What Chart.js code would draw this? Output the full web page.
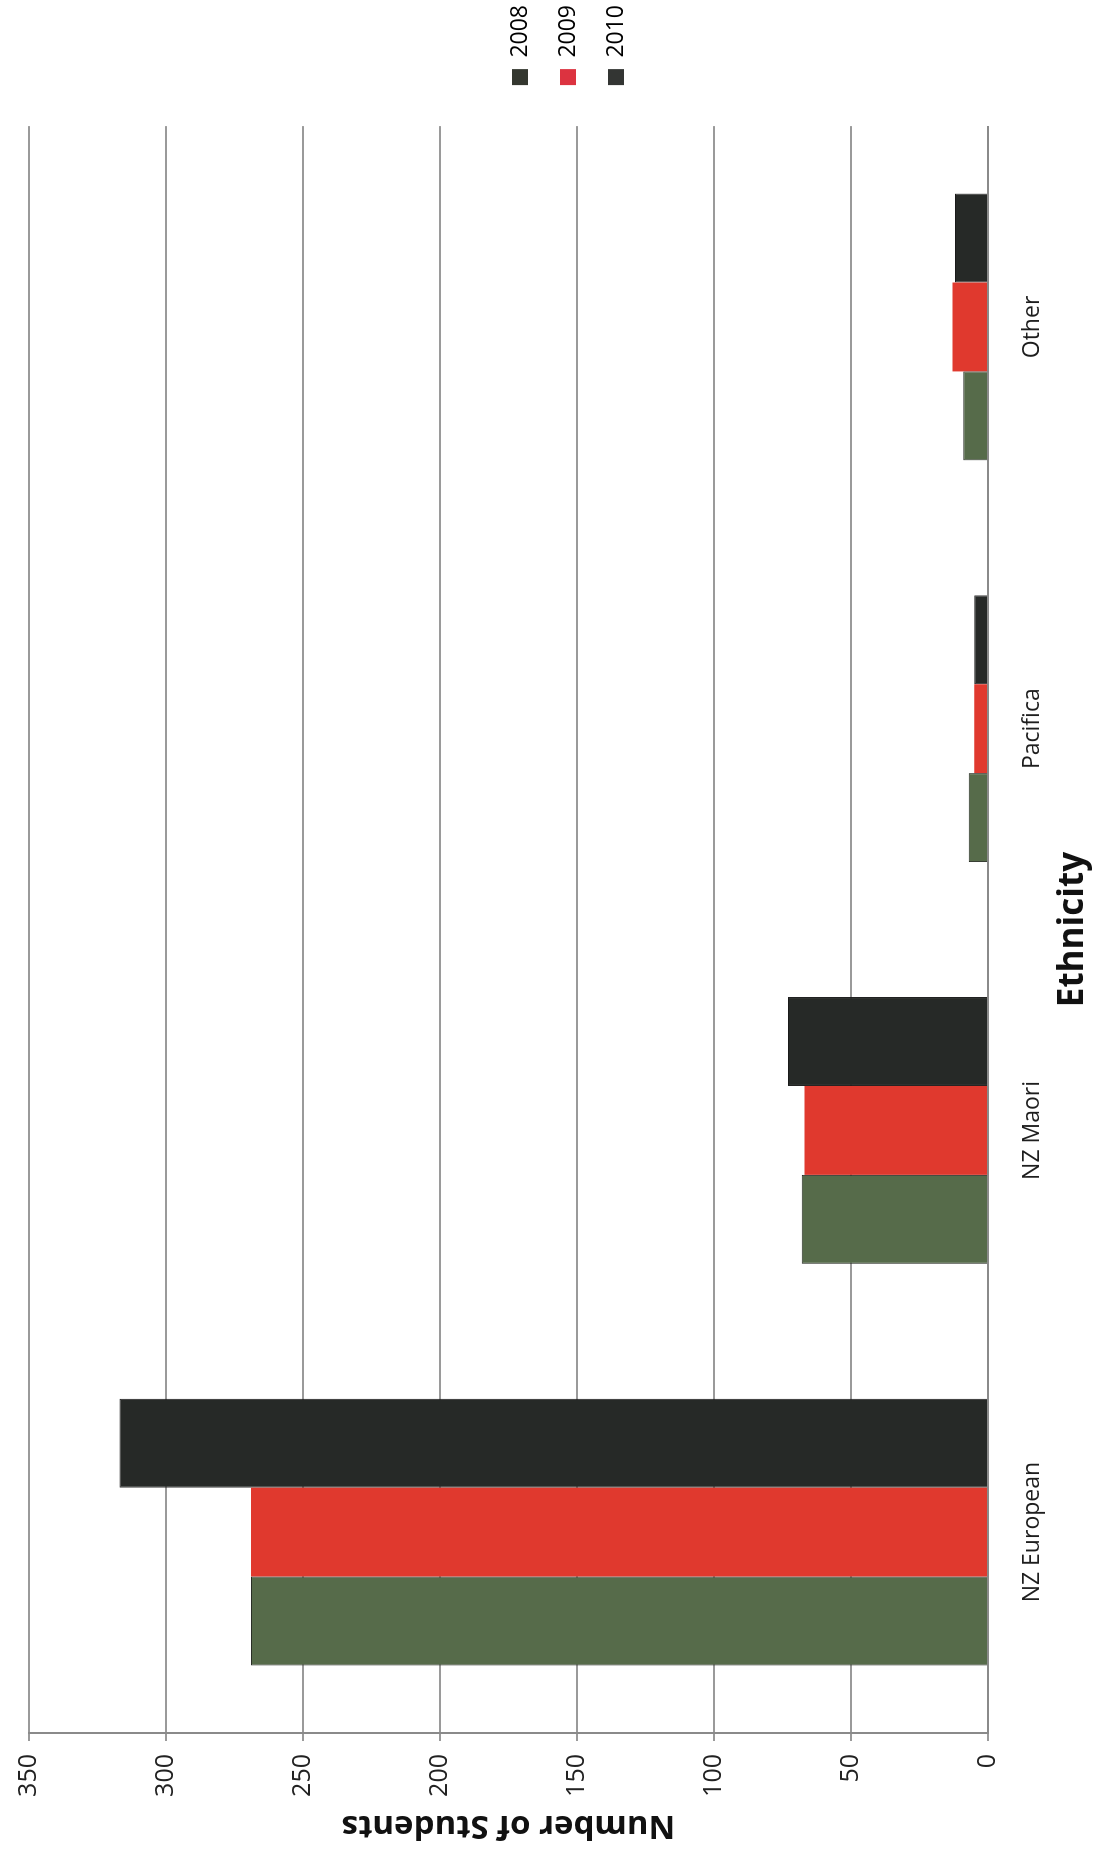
<!DOCTYPE html>
<html>
<head>
<meta charset="utf-8">
<script src="https://cdn.jsdelivr.net/npm/chart.js@4.4.0/dist/chart.umd.min.js"></script>
<style>
  html, body { margin: 0; padding: 0; background: #fff; overflow: hidden; width: 1107px; height: 1858px; }
  #wrap {
    position: absolute; left: 0; top: 0;
    width: 1858px; height: 1107px;
    transform-origin: 0 0;
    transform: translateY(1858px) rotate(-90deg);
    background: #fff;
  }
</style>
</head>
<body>
<div id="wrap"><canvas id="c" width="1858" height="1107"></canvas></div>
<script>
const categories = ['NZ European', 'NZ Maori', 'Pacifica', 'Other'];
const seriesNames = ['2008', '2009', '2010'];
const values2008 = [269, 68, 7, 9];
const values2009 = [269, 67, 5, 13];
const values2010 = [317, 73, 5, 12];
const valueTicks = [0, 50, 100, 150, 200, 250, 300, 350];

const barColors = ['#566b4a', '#e0392e', '#262927'];
const legendColors = ['#34372f', '#dc3340', '#333533'];
const FONT = "'Open Sans', 'Liberation Sans', sans-serif";

new Chart(document.getElementById('c'), {
  type: 'bar',
  data: {
    labels: categories,
    datasets: [
      { label: seriesNames[0], data: values2008, backgroundColor: barColors[0], borderColor: '#2a2f27', borderWidth: 1 },
      { label: seriesNames[1], data: values2009, backgroundColor: barColors[1], borderColor: '#b8302a', borderWidth: 0 },
      { label: seriesNames[2], data: values2010, backgroundColor: barColors[2], borderColor: '#1a1a1a', borderWidth: 1 }
    ]
  },
  options: {
    responsive: false,
    animation: false,
    devicePixelRatio: 1,
    datasets: { bar: { categoryPercentage: 0.664, barPercentage: 1.0 } },
    layout: { padding: { left: 10, right: -5, top: 29, bottom: 0 } },
    plugins: {
      tooltip: { enabled: false },
      legend: {
        position: 'right',
        align: 'center',
        labels: {
          boxWidth: 16,
          boxHeight: 16,
          padding: 25,
          color: '#222',
          font: { family: FONT, size: 23 },
          generateLabels(chart) {
            return chart.data.datasets.map((ds, i) => ({
              text: ds.label,
              fillStyle: legendColors[i],
              strokeStyle: legendColors[i],
              lineWidth: 0,
              hidden: false,
              datasetIndex: i
            }));
          }
        }
      }
    },
    scales: {
      x: {
        grid: { display: false },
        border: { display: true, color: '#8a8a8a', width: 2 },
        ticks: { color: '#1e1e1e', padding: 22.6, font: { family: FONT, size: 23 } },
        title: { display: true, text: 'Ethnicity', color: '#111', font: { family: FONT, size: 35, weight: 'bold' }, padding: { top: 0, bottom: 13 } },
        afterFit(s) { s.height = 119; }
      },
      y: {
        min: 0, max: 350,
        afterBuildTicks(s) { s.ticks = valueTicks.map(v => ({ value: v })); },
        grid: { color: '#9a9a9a', lineWidth: 2, tickLength: 8, drawTicks: true },
        border: { display: true, color: '#8a8a8a', width: 2 },
        ticks: { color: '#222', padding: 13, font: { family: FONT, size: 25 } },
        title: { display: true, text: 'Number of Students', color: '#111', font: { family: FONT, size: 33, weight: 'bold' }, padding: { top: 3, bottom: 0 } },
        afterFit(s) { s.width = 115; }
      },
      spacer: {
        type: 'linear',
        position: 'right',
        display: true,
        grid: { display: false },
        border: { display: false },
        ticks: { display: false },
        afterFit(s) { s.width = 16; }
      }
    }
  }
});
</script>
</body>
</html>
